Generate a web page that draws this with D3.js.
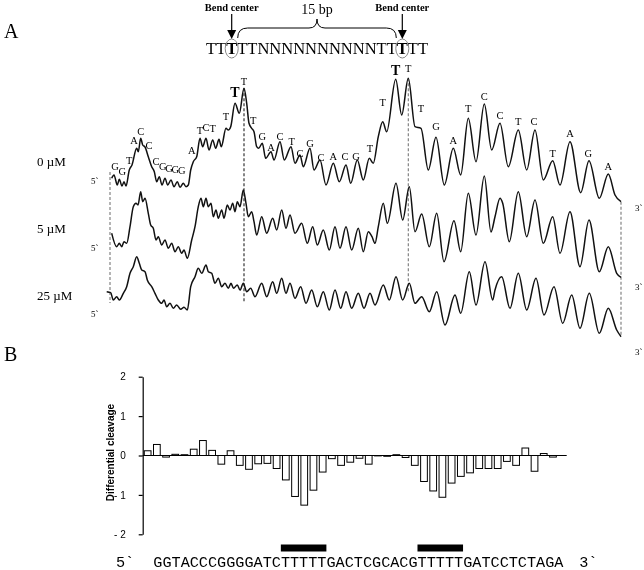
<!DOCTYPE html>
<html>
<head>
<meta charset="utf-8">
<script src="https://cdn.jsdelivr.net/npm/d3@7"></script>
<style>
  body { margin: 0; background: #fff; }
  svg { display: block; will-change: transform; }
  text { fill: #000; }
  .serif { font-family: "Liberation Serif", "Times New Roman", serif; }
  .sans { font-family: "Liberation Sans", Arial, sans-serif; }
  .mono { font-family: "Liberation Mono", "Courier New", monospace; }
</style>
</head>
<body>
<svg id="fig" width="644" height="570"></svg>
<script>
// ---------- data: panel A (densitometer scans, scan position vs intensity) ----------
const concLabels = ["0 \u00b5M", "5 \u00b5M", "25 \u00b5M"];

const scan0 = [[1.7,26.7],[4,30],[7.3,20],[9.3,25.7],[12,19],[14,23.3],[16,19],[19.3,35],[22,40],[26.7,56.7],[28.3,53.3],[30.7,66.7],[32.7,60],[35,58],[38.3,48.3],[41.7,38.3],[44.3,33.3],[46.7,23.3],[49.3,28.3],[52,20],[55,26.7],[57.7,20],[61,25],[64,18.3],[67.3,23.3],[70,17.7],[73.3,21.7],[76,18.3],[78.3,20],[80.7,35],[83.3,43.3],[86.7,48.3],[90,66.7],[92.7,58.3],[96,66.7],[99,55],[102.7,65],[105.7,56.7],[109,65.7],[111.3,58.3],[116,76.7],[118.3,75],[120.7,78.3],[125,101.7],[129.3,91.7],[134,116.7],[136.7,101.7],[139,81.7],[141.7,76.7],[144,73.3],[146.7,58.3],[148.7,56.7],[152.3,61.7],[155.7,46.7],[161,53.3],[164,45],[170,63.3],[174.3,45],[181,58.3],[185,41.7],[190,50],[193.3,38.3],[200,56.7],[204,35],[210,45],[216,20],[223.3,41.7],[229.3,23.3],[236,40],[240.7,21.7],[247.3,45],[253.3,25],[259.3,46.7],[263.3,41.7],[268.3,68.3],[272.7,83.3],[276.7,73.3],[285.7,125.7],[291.7,90],[298.3,126.7],[305,78.3],[311,76.7],[318.3,35],[326,67.7],[334.3,20],[343.3,56.7],[350.7,30],[358.3,86.7],[366,43.3],[374.3,101],[381.7,55],[390,81.7],[398.3,38.3],[408.3,75],[416.7,35],[425,75],[433.3,25],[442.7,44.3],[450,20],[460,63.3],[470.7,12.3],[479,44.3],[489.3,6.7],[498.3,31],[505,10],[511,3.3]];

const scan5 = [[1.7,46.7],[6.7,33.3],[9.3,36.7],[11.7,33.3],[14,38.3],[16.7,36.7],[20,53.3],[23.3,73.3],[26,76.7],[28,75],[30.7,88.3],[32.7,78.3],[35,81.7],[38.3,66.7],[40.7,55],[43.3,51.7],[46,40],[48.3,43.3],[51.7,35],[55,40],[58.3,31.7],[61.7,36.7],[65,28.3],[68.3,33.3],[71.7,26.7],[74,30],[77.3,21.7],[81.7,40],[85,53.3],[88.3,73.3],[91,81.7],[93.3,73.3],[96,81.7],[98.3,73.3],[101,76.7],[103.3,63.3],[106,70],[108.3,61.7],[111.7,70],[114,61.7],[117.3,75],[120,70],[122.7,76.7],[125,68.3],[127.3,78.3],[130,73.3],[133.3,90],[136,76.7],[138.3,63.3],[141.7,68.3],[144,58.3],[146.7,45],[151.7,63.3],[156.7,46.7],[162.7,61.7],[166.7,50],[171.7,70],[176,51.7],[180,65],[185,46.7],[191.7,56.7],[197.3,36.7],[202.7,53.3],[207.3,35],[213.3,50],[219.3,30],[225,53.3],[230,31.7],[236,53.3],[241.7,30],[248.3,51.7],[253.3,28.3],[258.3,48.3],[262,43.3],[265,36.7],[268.3,53.3],[273.3,76.7],[277.3,56.7],[286,96.7],[292.7,60],[299.3,93.3],[305,48.3],[311.7,66],[319.3,33.3],[326.7,66.7],[334,18.3],[344,59.3],[350.7,28.3],[358.3,86.7],[366,45],[374.3,104],[381,48],[385,63.3],[390,81.7],[392.7,76.7],[399.3,38.3],[408.3,88.3],[416.7,43.3],[425,80],[433.3,36.7],[442.7,63.3],[450,26.7],[460,68.3],[470,13.3],[479,60],[489.3,8.3],[498.3,33.3],[506.7,6.7],[511,2.7]];

const scan25 = [[-3.3,48.3],[0.7,47.3],[3.3,40],[6.7,43.3],[9.3,40],[13.3,46.7],[16.7,53.3],[20,66.7],[23.3,73.3],[26.7,83.3],[29.3,76.7],[31.7,70],[35,68.3],[37.3,60],[41.7,53.3],[45,46.7],[48.3,40],[51.7,36.7],[54,40],[56.7,33.3],[60,36.7],[63.3,31.7],[66.7,35],[70.7,30.7],[74,32.7],[77.3,30],[80.7,53.3],[85,63.3],[88.3,71.7],[91.7,66.7],[96,75],[98.3,68.3],[101.7,66.7],[105,56.7],[108.3,61.7],[111.7,53.3],[115,56.7],[118.3,51.7],[121,56.7],[123.5,51.7],[127.3,55],[130,50],[133.3,56.7],[136.7,48.3],[140.7,51.7],[145,43.3],[151.7,56.7],[156.7,43.3],[162.7,58.3],[166.7,46.7],[171.7,61.7],[176,46.7],[180,56.7],[185,41.7],[190.7,53.3],[196,36.7],[201.7,50],[207.3,33.3],[213.3,48.3],[219.3,30],[225,50],[230.7,31.7],[236,48.3],[241.7,31.7],[248.3,46.7],[254,31.7],[260,46.7],[265,35],[273.3,55],[279.3,40],[286,63.3],[292.7,40],[299.3,56.7],[305,36.7],[311.7,43.3],[319.3,28.3],[326.7,48.3],[335,15],[345,45],[350.7,26.7],[359.3,68.3],[366,35],[375,78.3],[382.7,40],[385,50],[391.7,63.3],[400,31.7],[408.3,66.7],[416.7,30],[426,61.7],[434,25],[444,53.3],[452.7,16.7],[461.7,45],[470,11.7],[479.3,46.7],[489.3,6.7],[498.3,31.7],[506.7,10],[511,3.3]];

// base calls over the 0 uM scan: [base, position, intensity, bold]
const peakCalls = [["G",5,38.3],["G",12.3,33.3],["T",19.3,45],["A",24,64.3],["C",30.7,74],["C",39,60],["C",46,43.3],["G",52.7,38.3],["G",59,36.7],["G",65.3,35.7],["G",71.7,34.3],["A",81.7,55],["T",90,75],["C",96,77.3],["T",102.7,76.7],["T",116,88.3],["T",125,113.3,true],["T",134,123.3],["T",143.3,85],["G",152.3,68.3],["A",161,57.7],["C",170,69],["T",181.7,63.3],["C",190,51.7],["G",200,61.7],["C",211,47.7],["A",223.3,48.3],["C",235,48.3],["G",246,49],["T",260,56.7],["T",272.7,102.3],["T",285.7,135,true],["T",298.3,136.7],["T",311,96.7],["G",326,78.3],["A",343.3,65],["T",358.3,96.7],["C",374.3,109],["C",390,90],["T",408.3,83.3],["C",424,83.3],["T",442.7,51.7],["A",460,71.7],["G",478.3,51.7],["A",498.3,38.3]];

// dashed guides: position, [scan, intensity] top, [scan, intensity] bottom
const guides = [[0,[0,33],[2,37]],[134,[0,116.7],[2,38]],[298.3,[0,126.7],[2,47]],[511,[0,3.3],[2,3.3]]];

const motif = ["T","T","T*","T","T","N","N","N","N","N","N","N","N","N","N","T","T","T*","T","T"];

// ---------- data: panel B ----------
const seqB = "GGTACCCGGGGATCTTTTTGACTCGCACGTTTTTGATCCTCTAGA";
const diffCleavage = [0.12,0.28,-0.04,0.03,0.02,0.16,0.38,0.13,-0.22,0.12,-0.25,-0.35,-0.21,-0.2,-0.33,-0.62,-1.04,-1.26,-0.88,-0.42,-0.08,-0.25,-0.17,-0.07,-0.22,-0.01,-0.02,0.02,-0.05,-0.25,-0.66,-0.9,-1.06,-0.7,-0.53,-0.44,-0.33,-0.33,-0.33,-0.15,-0.25,0.19,-0.4,0.05,-0.04];
const yTicks = [2, 1, 0, -1, -2];
const tractRuns = [[14, 19], [29, 34]];  // A-tract index ranges [start, end)

const svg = d3.select("#fig");

// ================= panel A =================
svg.append("text").attr("class", "serif").attr("x", 4).attr("y", 38)
  .attr("font-size", 20).text("A");

const x = d3.scaleLinear().domain([0, 511]).range([110, 621]);
const scanBase = [205, 280, 340];
const yScan = scanBase.map(b => d3.scaleLinear().domain([0, 100]).range([b, b - 100]));
const scans = [scan0, scan5, scan25];

// guides under the traces
svg.append("g").selectAll("line")
  .data(guides)
  .join("line")
  .attr("x1", d => x(d[0])).attr("x2", d => x(d[0]))
  .attr("y1", d => yScan[d[1][0]](d[1][1]))
  .attr("y2", d => yScan[d[2][0]](d[2][1]))
  .attr("stroke", (d, i) => i == 1 ? "#222" : "#777")
  .attr("stroke-width", 1.1)
  .attr("stroke-dasharray", "3,2");

const line = d3.line()
  .x(d => x(d[0]))
  .curve(d3.curveMonotoneX);

scans.forEach((s, i) => {
  svg.append("path")
    .datum(s)
    .attr("d", line.y(d => yScan[i](d[1])))
    .attr("fill", "none")
    .attr("stroke", "#111")
    .attr("stroke-width", 1.5)
    .attr("stroke-linejoin", "round");
});

svg.append("g").selectAll("text")
  .data(peakCalls)
  .join("text")
  .attr("class", "serif")
  .attr("x", d => x(d[1]))
  .attr("y", d => yScan[0](d[2]))
  .attr("dy", "0.35em")
  .attr("text-anchor", "middle")
  .attr("font-size", d => d[3] ? 14 : 10.5)
  .attr("font-weight", d => d[3] ? "bold" : "normal")
  .text(d => d[0]);

// concentration labels and strand ends
svg.append("g").selectAll("text")
  .data(concLabels)
  .join("text")
  .attr("class", "serif")
  .attr("x", 37)
  .attr("y", (d, i) => [166, 233, 300][i])
  .attr("font-size", 13)
  .text(d => d);

svg.append("g").selectAll("text")
  .data([184, 251, 317])
  .join("text")
  .attr("class", "serif").attr("x", 91).attr("y", d => d)
  .attr("font-size", 9).text("5`");
svg.append("g").selectAll("text")
  .data([211, 290, 355])
  .join("text")
  .attr("class", "serif").attr("x", 635).attr("y", d => d)
  .attr("font-size", 9).text("3`");

// motif header
const motifY = 54;
const motifText = svg.append("text")
  .attr("class", "serif")
  .attr("x", 317)
  .attr("y", motifY)
  .attr("text-anchor", "middle")
  .attr("font-size", 16.5);
motifText.selectAll("tspan")
  .data(motif)
  .join("tspan")
  .attr("font-weight", d => d == "T*" ? "bold" : "normal")
  .text(d => d[0]);

const starIdx = motif.map((d, i) => d == "T*" ? i : -1).filter(i => i >= 0);
const mNode = motifText.node();
const centers = starIdx.map(i => {
  const b = mNode.getExtentOfChar(i);
  return b.x + b.width / 2;
});

centers.forEach(c => {
  svg.append("ellipse")
    .attr("cx", c).attr("cy", motifY - 5.5)
    .attr("rx", 6.5).attr("ry", 9.5)
    .attr("fill", "none").attr("stroke", "#888").attr("stroke-width", 1);
  svg.append("line").attr("x1", c).attr("x2", c)
    .attr("y1", 14).attr("y2", 32).attr("stroke", "#000").attr("stroke-width", 1.2);
  svg.append("path")
    .attr("d", `M${c - 4.5},30 L${c + 4.5},30 L${c},39 Z`)
    .attr("fill", "#000");
  svg.append("text").attr("class", "serif")
    .attr("x", c).attr("y", 11)
    .attr("text-anchor", "middle").attr("font-size", 10.5).attr("font-weight", "bold")
    .text("Bend center");
});

// curly brace between the two bend centres
const bx0 = centers[0] + 6, bx1 = centers[1] - 6, bm = (bx0 + bx1) / 2;
const bp = d3.path();
bp.moveTo(bx0, 38);
bp.quadraticCurveTo(bx0, 28, bx0 + 10, 28);
bp.lineTo(bm - 8, 28);
bp.quadraticCurveTo(bm, 28, bm, 19);
bp.quadraticCurveTo(bm, 28, bm + 8, 28);
bp.lineTo(bx1 - 10, 28);
bp.quadraticCurveTo(bx1, 28, bx1, 38);
svg.append("path").attr("d", bp.toString())
  .attr("fill", "none").attr("stroke", "#000").attr("stroke-width", 1);
svg.append("text").attr("class", "serif")
  .attr("x", bm).attr("y", 14).attr("text-anchor", "middle")
  .attr("font-size", 14).text("15 bp");

// ================= panel B =================
svg.append("text").attr("class", "serif").attr("x", 4).attr("y", 361)
  .attr("font-size", 20).text("B");

const xb = d3.scaleBand()
  .domain(d3.range(diffCleavage.length))
  .range([143, 557.6])
  .paddingInner(0.27)
  .paddingOuter(0.14);
const yb = d3.scaleLinear().domain([-2, 2]).range([534.3, 376.7]);

svg.append("g")
  .attr("transform", "translate(142.7,0)")
  .call(d3.axisLeft(yb).tickValues(yTicks).tickSize(4).tickSizeOuter(0).tickPadding(13)
    .tickFormat(d => d < 0 ? "- " + Math.abs(d) : d))
  .call(g => g.selectAll("text").attr("font-size", 10)
    .attr("font-family", "Liberation Sans, Arial, sans-serif").attr("fill", "#000"))
  .call(g => g.selectAll("line,path").attr("stroke", "#000").attr("stroke-width", 1.2));

svg.append("g").selectAll("rect")
  .data(diffCleavage)
  .join("rect")
  .attr("x", (d, i) => xb(i))
  .attr("width", xb.bandwidth())
  .attr("y", d => yb(Math.max(0, d)))
  .attr("height", d => Math.abs(yb(d) - yb(0)))
  .attr("fill", "#fff")
  .attr("stroke", "#000")
  .attr("stroke-width", 1);

svg.append("line")
  .attr("x1", 142.7).attr("x2", 566.7)
  .attr("y1", yb(0)).attr("y2", yb(0))
  .attr("stroke", "#000").attr("stroke-width", 1.2);

svg.append("text").attr("class", "sans")
  .attr("transform", `translate(114,${yb(0) - 3}) rotate(-90)`)
  .attr("text-anchor", "middle")
  .attr("font-size", 10).attr("font-weight", "bold")
  .text("Differential cleavage");

// sequence along the bars, with A-tract bars
const charW = 9.11;
const seqX0 = 153.3;
const seqY = 566.5;
const xs = d3.scaleLinear().domain([0, seqB.length]).range([seqX0, seqX0 + charW * seqB.length]);

svg.append("text").attr("class", "mono")
  .attr("x", 116).attr("y", seqY)
  .attr("font-size", 15.2).text("5`");
svg.append("text").attr("class", "mono")
  .attr("x", seqX0).attr("y", seqY)
  .attr("font-size", 15.2)
  .text(seqB);
svg.append("text").attr("class", "mono")
  .attr("x", xs(seqB.length) + 16).attr("y", seqY)
  .attr("font-size", 15.2).text("3`");

svg.append("g").selectAll("rect")
  .data(tractRuns)
  .join("rect")
  .attr("x", d => xs(d[0]))
  .attr("width", d => xs(d[1]) - xs(d[0]))
  .attr("y", 544.5).attr("height", 7)
  .attr("fill", "#000");
</script>
</body>
</html>
